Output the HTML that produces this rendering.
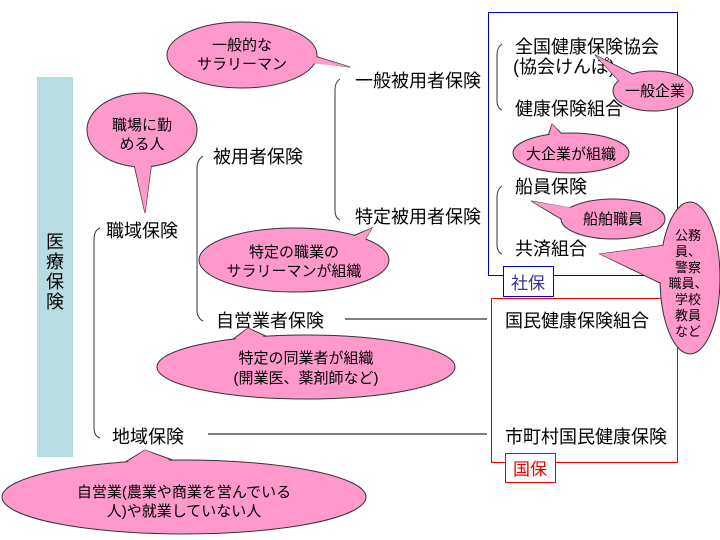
<!DOCTYPE html>
<html><head><meta charset="utf-8"><style>
html,body{margin:0;padding:0;background:#fff;}
svg{display:block;font-family:"Liberation Sans","Noto Sans CJK JP",sans-serif;}
.t{font-size:18px;fill:#000;}
.c{font-size:15px;fill:#000;text-anchor:middle;}
.p{fill:#ff99cc;stroke:#333;stroke-width:1;}
.f{fill:#ff99cc;stroke:none;}
</style></head><body>
<svg width="720" height="540" viewBox="0 0 720 540" xmlns="http://www.w3.org/2000/svg">
<rect x="37" y="77" width="36" height="380" fill="#b7dde1"/>
<text class="t" x="55" y="248" text-anchor="middle" style="font-size:18px">医</text>
<text class="t" x="55" y="268" text-anchor="middle" style="font-size:18px">療</text>
<text class="t" x="55" y="288" text-anchor="middle" style="font-size:18px">保</text>
<text class="t" x="55" y="308" text-anchor="middle" style="font-size:18px">険</text>

<g fill="none" stroke="#333" stroke-width="1">
<path d="M100,228 Q94,230 94,240 L94,428 Q94,436 100,438"/>
<path d="M203,156 Q197,160 197,168 L197,310 Q197,318 203,321"/>
<path d="M340,79 Q335,82 335,90 L335,210 Q335,218 340,220"/>
<path d="M502,44 Q497,47 497,55 L497,100 Q497,108 502,110"/>
<path d="M502,186 Q497,189 497,197 L497,244 Q497,252 502,254"/>
</g>
<line x1="208" y1="434" x2="487" y2="434" stroke="#000"/>
<line x1="345" y1="319" x2="487" y2="319" stroke="#000"/>

<rect x="488.5" y="12.5" width="189" height="263" fill="none" stroke="#0000cc"/>
<rect x="491.5" y="298.5" width="186" height="164" fill="none" stroke="#ee0000"/>

<text class="t" x="106" y="237">職域保険</text>
<text class="t" x="112" y="443">地域保険</text>
<text class="t" x="213" y="163">被用者保険</text>
<text class="t" x="216" y="327">自営業者保険</text>
<text class="t" x="355" y="87">一般被用者保険</text>
<text class="t" x="355" y="223">特定被用者保険</text>
<text class="t" x="515" y="53">全国健康保険協会</text>
<text class="t" x="513" y="73">(協会けんぽ)</text>
<text class="t" x="515" y="115">健康保険組合</text>
<text class="t" x="515" y="193">船員保険</text>
<text class="t" x="515" y="255">共済組合</text>
<text class="t" x="505" y="327">国民健康保険組合</text>
<text class="t" x="505" y="443">市町村国民健康保険</text>

<g>
<polygon class="p" points="295,50 310,62 350,67"/>
<ellipse class="p" cx="242" cy="55" rx="75" ry="33"/>
<polygon class="f" points="293,50 308,63 350,67"/>
<text class="c" x="242" y="50">一般的な</text><text class="c" x="242" y="69">サラリーマン</text>
</g>
<g>
<polygon class="p" points="133,160 152,160 145,213"/>
<ellipse class="p" cx="142" cy="130" rx="55" ry="37"/>
<polygon class="f" points="133,158 152,158 145,213"/>
<text class="c" x="142" y="130">職場に勤</text><text class="c" x="142" y="149">める人</text>
</g>
<g>
<polygon class="p" points="343,240 362,245 372,228"/>
<ellipse class="p" cx="294" cy="260" rx="95" ry="32"/>
<polygon class="f" points="342,242 361,247 372,228"/>
<text class="c" x="294" y="257">特定の職業の</text><text class="c" x="294" y="276">サラリーマンが組織</text>
</g>
<g>
<polygon class="p" points="620,82 637,76 595,55"/>
<ellipse class="p" cx="653" cy="91" rx="40" ry="20"/>
<polygon class="f" points="622,84 639,78 595,55"/>
<text class="c" x="655" y="96">一般企業</text>
</g>
<g>
<polygon class="p" points="546,142 566,138 552,124"/>
<ellipse class="p" cx="571" cy="153" rx="58" ry="20"/>
<polygon class="f" points="547,144 567,140 552,124"/>
<text class="c" x="571" y="159">大企業が組織</text>
</g>
<g>
<polygon class="p" points="570,208 566,222 531,201"/>
<ellipse class="p" cx="613" cy="219" rx="52" ry="20"/>
<polygon class="f" points="572,208 568,222 531,201"/>
<text class="c" x="613" y="224">船舶職員</text>
</g>
<g>
<polygon class="p" points="666,245 664,285 600,254"/>
<ellipse class="p" cx="690" cy="278" rx="30" ry="76"/>
<polygon class="f" points="668,245 666,285 600,254"/>
<text class="c" x="688" y="240" style="font-size:13px">公務</text>
<text class="c" x="688" y="256" style="font-size:13px">員、</text>
<text class="c" x="688" y="272" style="font-size:13px">警察</text>
<text class="c" x="688" y="288" style="font-size:13px">職員、</text>
<text class="c" x="688" y="304" style="font-size:13px">学校</text>
<text class="c" x="688" y="320" style="font-size:13px">教員</text>
<text class="c" x="688" y="336" style="font-size:13px">など</text>
</g>
<g>
<polygon class="p" points="232,340 268,337 248,328"/>
<ellipse class="p" cx="306" cy="367" rx="149" ry="32"/>
<polygon class="f" points="232,342 268,339 248,328"/>
<text class="c" x="306" y="363">特定の同業者が組織</text><text class="c" x="306" y="383">(開業医、薬剤師など)</text>
</g>
<g>
<polygon class="p" points="122,464 178,462 145,450"/>
<ellipse class="p" cx="184" cy="497" rx="182" ry="37"/>
<polygon class="f" points="122,466 178,464 145,450"/>
<text class="c" x="184" y="497">自営業(農業や商業を営んでいる</text><text class="c" x="184" y="516">人)や就業していない人</text>
</g>

<rect x="503.5" y="266.5" width="50" height="30" fill="#fff" stroke="#0000cc"/>
<text x="528" y="289" text-anchor="middle" style="font-size:17px;fill:#333399">社保</text>
<rect x="505.5" y="453.5" width="50" height="29" fill="#fff" stroke="#ee0000"/>
<text x="530" y="475" text-anchor="middle" style="font-size:17px;fill:#ee0000">国保</text>
</svg>
</body></html>
